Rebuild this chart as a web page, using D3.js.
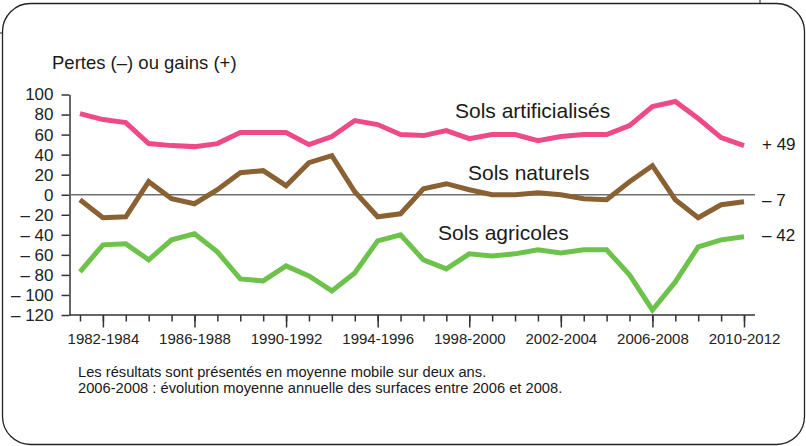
<!DOCTYPE html>
<html>
<head>
<meta charset="utf-8">
<script src="https://cdn.jsdelivr.net/npm/d3@7"></script>
<style>
  body { margin: 0; background: #fff; }
  svg { display: block; font-family: "Liberation Sans", Arial, sans-serif; }
  .axis text { fill: #222; }
  .axis line, .axis path { stroke: #333; stroke-width: 1.5; }
</style>
</head>
<body>
<svg id="chart" width="806" height="446"></svg>
<script>
// periods (moyenne mobile sur deux ans)
var periods = ['1981-1983','1982-1984','1983-1985','1984-1986','1985-1987','1986-1988','1987-1989','1988-1990',
  '1989-1991','1990-1992','1991-1993','1992-1994','1993-1995','1994-1996','1995-1997','1996-1998',
  '1997-1999','1998-2000','1999-2001','2000-2002','2001-2003','2002-2004','2003-2005','2004-2006',
  '2005-2007','2006-2008','2007-2009','2008-2010','2009-2011','2010-2012'];
var labelledPeriods = ['1982-1984','1986-1988','1990-1992','1994-1996','1998-2000','2002-2004','2006-2008','2010-2012'];
var yTicks = [-120, -100, -80, -60, -40, -20, 0, 20, 40, 60, 80, 100];

var solsArtificialises = [81, 75, 72, 51, 49, 48, 51, 62, 62, 62, 50, 58, 74, 70, 60, 59, 64, 56, 60, 60, 54, 58, 60, 60, 69, 88, 93, 76, 57, 49];
var solsNaturels = [-5, -23, -22, 13, -4, -9, 5, 22, 24, 9, 32, 39, 3, -22, -19, 6, 11, 5, 0, 0, 2, 0, -4, -5, 13, 29, -5, -23, -10, -7];
var solsAgricoles = [-77, -50, -49, -65, -45, -39, -57, -84, -86, -71, -81, -96, -78, -46, -40, -65, -74, -59, -61, -59, -55, -58, -55, -55, -80, -115, -87, -52, -45, -42];

var seriesNames = ['Sols artificialisés', 'Sols naturels', 'Sols agricoles'];
var endLabels = ['+ 49', '\u2013 7', '\u2013 42'];

var svg = d3.select('#chart');

// frame
svg.append('rect')
  .attr('x', 2.5).attr('y', 3.5)
  .attr('width', 802).attr('height', 441)
  .attr('rx', 28).attr('ry', 28)
  .attr('fill', '#fff').attr('stroke', '#222').attr('stroke-width', 1.3);
svg.append('line').attr('x1', 0).attr('x2', 3).attr('y1', 33).attr('y2', 33).attr('stroke', '#222');
svg.append('line').attr('x1', 760).attr('x2', 760).attr('y1', 0).attr('y2', 3.5).attr('stroke', '#222');

var x = d3.scalePoint().domain(periods).range([80, 744]);
var y = d3.scaleLinear().domain([-120, 100]).range([315, 94.5]);

var xLeft = 69.5, xRight = 755;

// y axis
var yAxis = svg.append('g')
  .attr('class', 'axis')
  .attr('transform', 'translate(' + xLeft + ',0)')
  .call(d3.axisLeft(y)
    .tickValues(yTicks)
    .tickSize(8)
    .tickSizeOuter(0)
    .tickPadding(8)
    .tickFormat(function(d) { return d < 0 ? '\u2013 ' + Math.abs(d) : d; }));
yAxis.selectAll('text').style('font-size', '17px');

// zero line
svg.append('line')
  .attr('x1', xLeft).attr('x2', xRight)
  .attr('y1', y(0)).attr('y2', y(0))
  .attr('stroke', '#6e6e6e').attr('stroke-width', 1.5);

// x axis: minor ticks on every period, longer ticks with labels
var xMinor = svg.append('g')
  .attr('class', 'axis')
  .attr('transform', 'translate(0,' + y(-120) + ')')
  .call(d3.axisBottom(x).tickSize(6.5).tickSizeOuter(0).tickFormat(''));
xMinor.select('.domain').remove();

var xMajor = svg.append('g')
  .attr('class', 'axis')
  .attr('transform', 'translate(0,' + y(-120) + ')')
  .call(d3.axisBottom(x).tickValues(labelledPeriods).tickSize(12.5).tickSizeOuter(0).tickPadding(6));
xMajor.select('.domain').remove();
xMajor.selectAll('text').style('font-size', '15px');

svg.append('line')
  .attr('x1', xLeft).attr('x2', xRight)
  .attr('y1', y(-120)).attr('y2', y(-120))
  .attr('stroke', '#333').attr('stroke-width', 1.5);

// lines
var line = d3.line()
  .x(function(d, i) { return x(periods[i]); })
  .y(function(d) { return y(d); });

var seriesData = [solsArtificialises, solsNaturels, solsAgricoles];
var colors = ['#ee4a88', '#8a6132', '#6dc24b'];

svg.selectAll('.serie')
  .data(seriesData)
  .enter().append('path')
    .attr('class', 'serie')
    .attr('d', line)
    .attr('fill', 'none')
    .attr('stroke', function(d, i) { return colors[i]; })
    .attr('stroke-width', 5)
    .attr('stroke-linejoin', 'miter');

// series names
var namePos = [[455, 118], [468, 180], [438, 240]];
svg.selectAll('.serie-name')
  .data(seriesNames)
  .enter().append('text')
    .attr('class', 'serie-name')
    .attr('x', function(d, i) { return namePos[i][0]; })
    .attr('y', function(d, i) { return namePos[i][1]; })
    .attr('fill', '#1a1a1a')
    .style('font-size', '21px')
    .text(function(d) { return d; });

// end values
svg.selectAll('.end-label')
  .data(seriesData)
  .enter().append('text')
    .attr('class', 'end-label')
    .attr('x', 762)
    .attr('y', function(d) { return y(d[d.length - 1]) + 4; })
    .attr('fill', '#1a1a1a')
    .style('font-size', '17px')
    .text(function(d, i) { return endLabels[i]; });

// titles and notes
svg.append('text')
  .attr('x', 52).attr('y', 69)
  .attr('fill', '#1a1a1a')
  .style('font-size', '18.5px')
  .text('Pertes (\u2013) ou gains (+)');

svg.append('text')
  .attr('x', 78).attr('y', 376.5)
  .attr('fill', '#1a1a1a')
  .style('font-size', '14.7px')
  .text('Les résultats sont présentés en moyenne mobile sur deux ans.');
svg.append('text')
  .attr('x', 78).attr('y', 393)
  .attr('fill', '#1a1a1a')
  .style('font-size', '14.7px')
  .text('2006-2008 : évolution moyenne annuelle des surfaces entre 2006 et 2008.');
</script>
</body>
</html>
